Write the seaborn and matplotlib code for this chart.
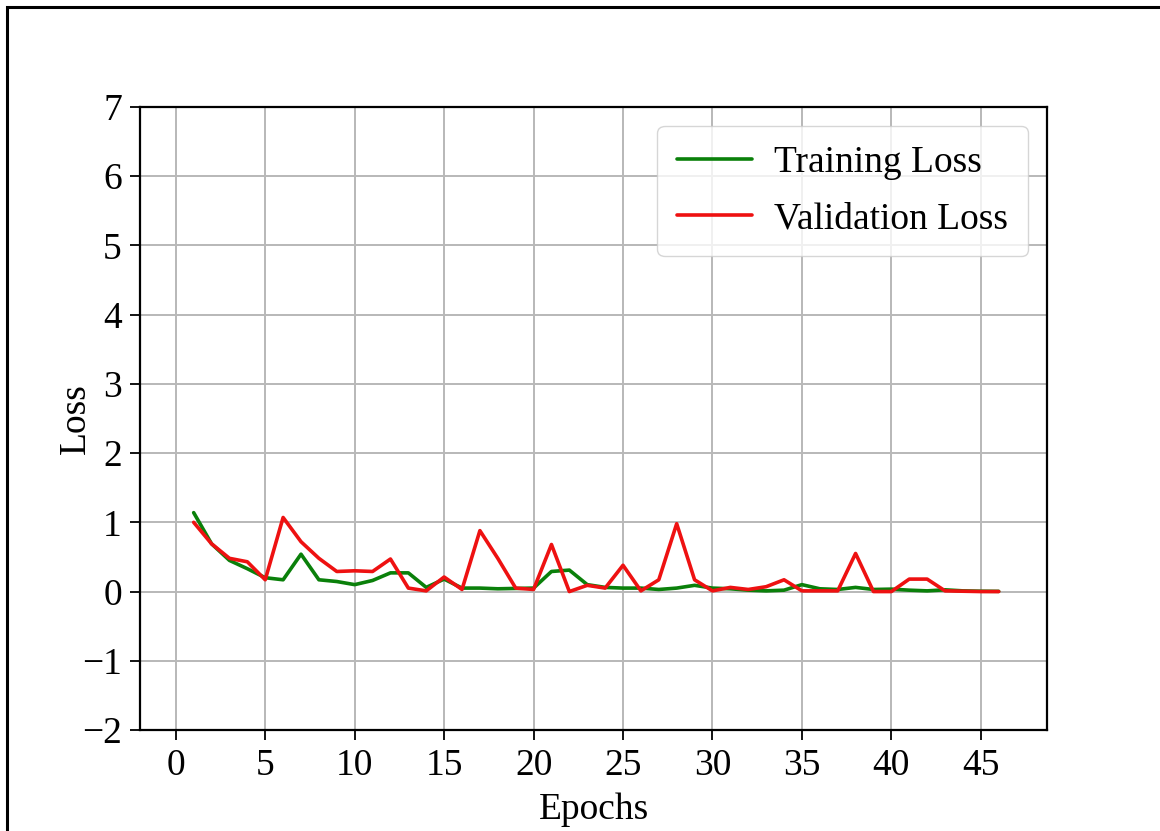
import matplotlib
matplotlib.use("Agg")
import matplotlib.pyplot as plt
from matplotlib.patches import Rectangle
import seaborn as sns
import pandas as pd

epochs = list(range(1, 47))
training_loss = [1.14, 0.69, 0.45, 0.33, 0.20, 0.17, 0.54, 0.17, 0.145, 0.10,
                 0.16, 0.27, 0.27, 0.06, 0.18, 0.05, 0.05, 0.04, 0.045, 0.05,
                 0.29, 0.31, 0.10, 0.06, 0.05, 0.05, 0.03, 0.05, 0.09, 0.05,
                 0.04, 0.02, 0.01, 0.02, 0.10, 0.04, 0.03, 0.06, 0.03, 0.035,
                 0.02, 0.01, 0.025, 0.01, 0.005, 0.003]
validation_loss = [1.00, 0.69, 0.48, 0.43, 0.17, 1.07, 0.72, 0.48, 0.29, 0.30,
                   0.29, 0.47, 0.05, 0.01, 0.21, 0.03, 0.88, 0.48, 0.05, 0.03,
                   0.68, 0.00, 0.09, 0.05, 0.38, 0.01, 0.17, 0.98, 0.17, 0.01,
                   0.06, 0.03, 0.07, 0.17, 0.01, 0.01, 0.01, 0.55, 0.00, 0.00,
                   0.18, 0.18, 0.01, 0.005, 0.00, 0.00]
series_names = ["Training Loss", "Validation Loss"]
x_ticks = list(range(0, 50, 5))
y_ticks = list(range(-2, 8))

sns.set_style("white")
plt.rcParams["font.family"] = ["Liberation Serif", "DejaVu Serif"]
plt.rcParams["text.color"] = "black"
plt.rcParams["axes.labelcolor"] = "black"
plt.rcParams["xtick.color"] = "black"
plt.rcParams["ytick.color"] = "black"
plt.rcParams["xtick.labelcolor"] = "black"
plt.rcParams["ytick.labelcolor"] = "black"

df = pd.DataFrame({
    "Epoch": epochs * 2,
    "Loss": training_loss + validation_loss,
    "Series": [series_names[0]] * len(epochs) + [series_names[1]] * len(epochs),
})

fig = plt.figure(figsize=(11.6, 8.31), dpi=100)
ax = fig.add_axes([140 / 1160, 1 - 730 / 831, (1047 - 140) / 1160, (730 - 107) / 831])

sns.lineplot(data=df, x="Epoch", y="Loss", hue="Series", ax=ax,
             palette={series_names[0]: "#0a800a", series_names[1]: "#ee1111"},
             linewidth=2.6, legend=True)

ax.set_xlim(-2.0, 48.7)
ax.set_ylim(-2, 7)
ax.set_xticks(x_ticks)
ax.set_yticks(y_ticks)
ax.set_yticklabels([("\u2212" + str(-v)) if v < 0 else str(v) for v in y_ticks])
ax.grid(True, color="#b8b8b8", linewidth=1.4)
ax.set_axisbelow(True)
for s in ax.spines.values():
    s.set_color("black")
    s.set_linewidth(1.6)
ax.tick_params(axis="both", direction="out", length=7, width=1.3, color="black",
               labelcolor="black", labelsize=27, pad=6, bottom=True, left=True)
ax.set_xlabel("Epochs", fontsize=27, labelpad=7, color="black")
ax.set_ylabel("Loss", fontsize=27, labelpad=-8, color="black")

leg = ax.legend(loc="upper right", fontsize=27, frameon=True, fancybox=True,
                edgecolor="#cccccc", framealpha=0.8, labelspacing=0.58,
                borderpad=0.53, handletextpad=0.6)
for line in leg.get_lines():
    line.set_linewidth(2.6)
for t in leg.get_texts():
    t.set_color("black")

fig.add_artist(Rectangle((7 / 1160, -0.5), 2, (1 - 7 / 831) + 0.5,
                         transform=fig.transFigure, fill=False,
                         edgecolor="black", linewidth=2.2))

fig.savefig("out.png", dpi=100, facecolor="white")
